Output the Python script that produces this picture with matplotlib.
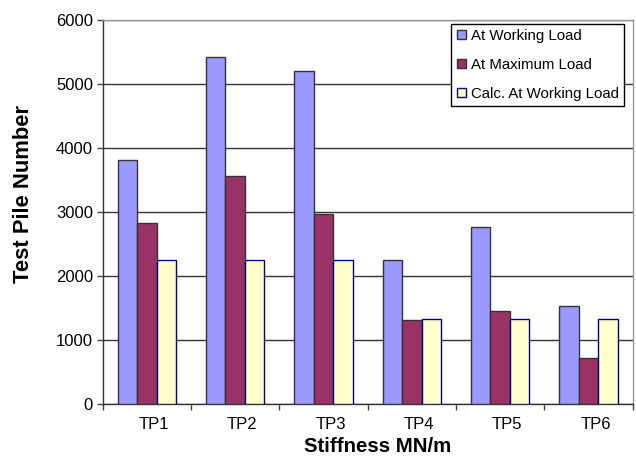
import numpy as np
import matplotlib
matplotlib.use('Agg')
import matplotlib.pyplot as plt
import matplotlib.transforms as mtrans

plt.rcParams['font.family'] = ['Liberation Sans', 'DejaVu Sans']

piles = ['TP1', 'TP2', 'TP3', 'TP4', 'TP5', 'TP6']
working = [3810, 5420, 5200, 2250, 2760, 1525]
maximum = [2825, 3570, 2965, 1320, 1460, 715]
calc_working = [2250, 2250, 2250, 1330, 1330, 1330]

fig = plt.figure(figsize=(6.36, 4.59), dpi=100)
ax = fig.add_axes([0.1615, 0.1198, 0.8333, 0.8366])

x = np.arange(len(piles))
w = 0.22
ax.bar(x - w, working, w, color='#9999FF', edgecolor='#333333', linewidth=1,
       label='At Working Load', zorder=3)
ax.bar(x, maximum, w, color='#993366', edgecolor='#333333', linewidth=1,
       label='At Maximum Load', zorder=3)
ax.bar(x + w, calc_working, w, color='#FFFFCC', edgecolor='#000080', linewidth=1,
       label='Calc. At Working Load', zorder=3)

ax.set_xlim(-0.5, len(piles) - 0.5)
ax.set_ylim(0, 6000)
ax.set_yticks(np.arange(0, 6001, 1000))
ax.yaxis.grid(True, color='#333333', linewidth=1)
ax.set_axisbelow(True)

# category ticks on boundaries, labels in the middle
ax.set_xticks(np.arange(-0.5, len(piles), 1.0))
ax.set_xticklabels([])
ax.set_xticks(x, minor=True)
ax.set_xticklabels(piles, minor=True, fontsize=12)
ax.tick_params(axis='x', which='major', direction='out', length=4, width=1, color='#444444')
ax.tick_params(axis='x', which='minor', length=0, pad=9)
ax.tick_params(axis='y', direction='out', length=4, width=1, labelsize=12, pad=3,
               color='#444444')
off = mtrans.ScaledTranslation(7 / 100, 0, fig.dpi_scale_trans)
for lab in ax.xaxis.get_minorticklabels():
    lab.set_transform(lab.get_transform() + off)

for s in ['left', 'bottom']:
    ax.spines[s].set_color('#333333')
    ax.spines[s].set_linewidth(1)
for s in ['top', 'right']:
    ax.spines[s].set_color('#999999')
    ax.spines[s].set_linewidth(1)

fig.text(378 / 636, 1 - 447 / 459, 'Stiffness MN/m', ha='center', va='center',
         fontsize=14.7, fontweight='bold')
fig.text(24 / 636, 1 - 194 / 459, 'Test Pile Number', ha='center', va='center',
         rotation=90, fontsize=15.8, fontweight='bold')

leg = ax.legend(loc='upper right', bbox_to_anchor=(624 / 636, 1 - 23.7 / 459),
                bbox_transform=fig.transFigure, fontsize=10.8, frameon=True,
                fancybox=False, shadow=False, handlelength=0.6, handleheight=0.6,
                handletextpad=0.35, labelspacing=1.0, borderpad=0.35,
                borderaxespad=0)
leg.get_frame().set_edgecolor('black')
leg.get_frame().set_linewidth(1)
leg.get_frame().set_alpha(1)

fig.savefig('out.png', dpi=100)
